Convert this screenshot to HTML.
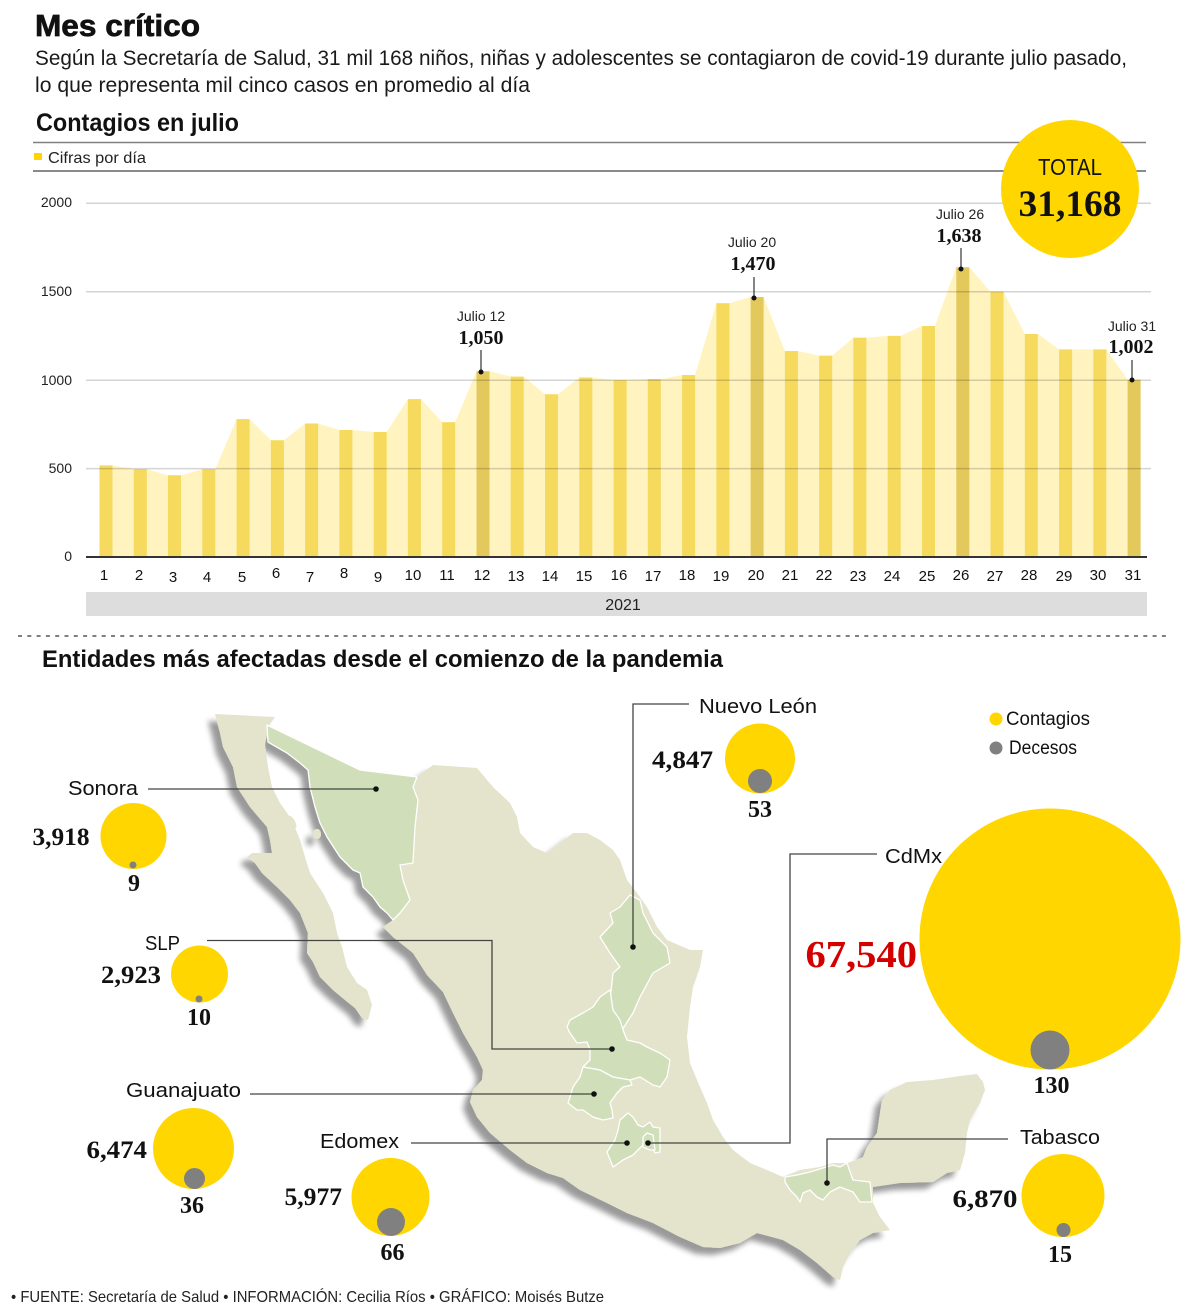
<!DOCTYPE html>
<html><head><meta charset="utf-8"><style>
html,body{margin:0;padding:0;background:#fff;}
svg{display:block;}
.s{font-family:"Liberation Sans",sans-serif;}
.n{font-family:"Liberation Serif",serif;font-weight:bold;}
</style></head><body>
<svg width="1200" height="1315" viewBox="0 0 1200 1315" xmlns="http://www.w3.org/2000/svg">
<defs>
<filter id="sh" x="-10%" y="-10%" width="125%" height="125%">
<feGaussianBlur in="SourceAlpha" stdDeviation="3"/>
<feOffset dx="-7" dy="7" result="o"/>
<feComponentTransfer in="o" result="o2"><feFuncA type="linear" slope="0.4"/></feComponentTransfer>
<feMerge><feMergeNode in="o2"/><feMergeNode in="SourceGraphic"/></feMerge>
</filter>
</defs>
<rect width="1200" height="1315" fill="#fff"/>

<!-- Header -->
<text class="s" x="35" y="36" font-size="31" font-weight="bold" fill="#111" stroke="#111" stroke-width="0.7" textLength="165" lengthAdjust="spacingAndGlyphs">Mes crítico</text>
<text class="s" x="35" y="65" font-size="21" fill="#1a1a1a" textLength="1092" lengthAdjust="spacingAndGlyphs">Según la Secretaría de Salud, 31 mil 168 niños, niñas y adolescentes se contagiaron de covid-19 durante julio pasado,</text>
<text class="s" x="35" y="92" font-size="21" fill="#1a1a1a" textLength="495" lengthAdjust="spacingAndGlyphs">lo que representa mil cinco casos en promedio al día</text>
<text class="s" x="36" y="131" font-size="25" font-weight="bold" fill="#111" textLength="203" lengthAdjust="spacingAndGlyphs">Contagios en julio</text>
<line x1="33" y1="142.5" x2="1146" y2="142.5" stroke="#808080" stroke-width="1.5"/>
<rect x="34" y="153" width="8" height="7" fill="#FFD400"/>
<text class="s" x="48" y="163" font-size="16" fill="#222" textLength="98" lengthAdjust="spacingAndGlyphs">Cifras por día</text>
<line x1="33" y1="171" x2="1146" y2="171" stroke="#444" stroke-width="1.3"/>

<!-- area -->
<polygon fill="#FFF3BF" points="99.5,557 99.5,465.4 112.5,465.4 133.8,469.1 146.8,469.1 168,475.3 181,475.3 202.3,469.1 215.3,469.1 236.6,419.1 249.6,419.1 270.9,440.3 283.9,440.3 305.1,423.5 318.1,423.5 339.4,430 352.4,430 373.7,432 386.7,432 407.9,399.1 420.9,399.1 442.2,422.2 455.2,422.2 476.5,371.3 489.5,371.3 510.7,376.6 523.7,376.6 545,394.3 558,394.3 579.3,377.5 592.3,377.5 613.6,380.2 626.6,380.2 647.8,379.1 660.8,379.1 682.1,375 695.1,375 716.4,303.2 729.4,303.2 750.6,297 763.6,297 784.9,351 797.9,351 819.2,355.7 832.2,355.7 853.4,337.7 866.4,337.7 887.7,335.9 900.7,335.9 922,326 935,326 956.3,267.3 969.3,267.3 990.5,291.7 1003.5,291.7 1024.8,334 1037.8,334 1059.1,349.4 1072.1,349.4 1093.3,349.4 1106.3,349.4 1127.6,379.8 1140.6,379.8 1140.6,557"/>

<!-- bars -->
<g fill="#F6DA5E">
<rect x="99.5" y="465.4" width="13" height="91.6"/>
<rect x="133.8" y="469.1" width="13" height="87.9"/>
<rect x="168" y="475.3" width="13" height="81.7"/>
<rect x="202.3" y="469.1" width="13" height="87.9"/>
<rect x="236.6" y="419.1" width="13" height="137.9"/>
<rect x="270.9" y="440.3" width="13" height="116.7"/>
<rect x="305.1" y="423.5" width="13" height="133.5"/>
<rect x="339.4" y="430" width="13" height="127"/>
<rect x="373.7" y="432" width="13" height="125"/>
<rect x="407.9" y="399.1" width="13" height="157.9"/>
<rect x="442.2" y="422.2" width="13" height="134.8"/>
<rect x="510.7" y="376.6" width="13" height="180.4"/>
<rect x="545" y="394.3" width="13" height="162.7"/>
<rect x="579.3" y="377.5" width="13" height="179.5"/>
<rect x="613.6" y="380.2" width="13" height="176.8"/>
<rect x="647.8" y="379.1" width="13" height="177.9"/>
<rect x="682.1" y="375" width="13" height="182"/>
<rect x="716.4" y="303.2" width="13" height="253.8"/>
<rect x="784.9" y="351" width="13" height="206"/>
<rect x="819.2" y="355.7" width="13" height="201.3"/>
<rect x="853.4" y="337.7" width="13" height="219.3"/>
<rect x="887.7" y="335.9" width="13" height="221.1"/>
<rect x="922" y="326" width="13" height="231"/>
<rect x="990.5" y="291.7" width="13" height="265.3"/>
<rect x="1024.8" y="334" width="13" height="223"/>
<rect x="1059.1" y="349.4" width="13" height="207.6"/>
<rect x="1093.3" y="349.4" width="13" height="207.6"/>
</g>
<g fill="#E3C85C">
<rect x="476.5" y="371.3" width="13" height="185.7"/>
<rect x="750.6" y="297" width="13" height="260"/>
<rect x="956.3" y="267.3" width="13" height="289.7"/>
<rect x="1127.6" y="379.8" width="13" height="177.2"/>
</g>

<!-- gridlines -->
<g stroke="#000" stroke-opacity="0.17" stroke-width="1.5">
<line x1="86" y1="203.3" x2="1151" y2="203.3"/>
<line x1="86" y1="291.7" x2="1151" y2="291.7"/>
<line x1="86" y1="380.2" x2="1151" y2="380.2"/>
<line x1="86" y1="468.6" x2="1151" y2="468.6"/>
</g>
<line x1="86" y1="557" x2="1147" y2="557" stroke="#333" stroke-width="2"/>
<g class="s" font-size="14" fill="#222" text-anchor="end">
<text x="72" y="207">2000</text>
<text x="72" y="296">1500</text>
<text x="72" y="385">1000</text>
<text x="72" y="473">500</text>
<text x="72" y="561">0</text>
</g>

<!-- x labels -->
<g class="s" font-size="15" fill="#111" text-anchor="middle">
<text x="104" y="580">1</text><text x="139" y="580">2</text><text x="173" y="582">3</text><text x="207" y="582">4</text><text x="242" y="582">5</text><text x="276" y="578">6</text><text x="310" y="582">7</text><text x="344" y="578">8</text><text x="378" y="582">9</text><text x="413" y="580">10</text><text x="447" y="580">11</text><text x="482" y="580">12</text><text x="516" y="581">13</text><text x="550" y="581">14</text><text x="584" y="581">15</text><text x="619" y="580">16</text><text x="653" y="581">17</text><text x="687" y="580">18</text><text x="721" y="581">19</text><text x="756" y="580">20</text><text x="790" y="580">21</text><text x="824" y="580">22</text><text x="858" y="581">23</text><text x="892" y="581">24</text><text x="927" y="581">25</text><text x="961" y="580">26</text><text x="995" y="581">27</text><text x="1029" y="580">28</text><text x="1064" y="581">29</text><text x="1098" y="580">30</text><text x="1133" y="580">31</text>
</g>
<rect x="86" y="592" width="1061" height="24" fill="#DDDDDD"/>
<text class="s" x="623" y="610" font-size="16" fill="#222" text-anchor="middle">2021</text>

<!-- annotations -->
<g class="s" font-size="14" fill="#222" text-anchor="middle">
<text x="481" y="321">Julio 12</text>
<text x="752" y="247">Julio 20</text>
<text x="960" y="219">Julio 26</text>
<text x="1132" y="331">Julio 31</text>
</g>
<g class="n" font-size="20" fill="#111" text-anchor="middle">
<text x="481" y="344">1,050</text>
<text x="753" y="270">1,470</text>
<text x="959" y="242">1,638</text>
<text x="1131" y="353">1,002</text>
</g>
<g stroke="#333" stroke-width="1.2">
<line x1="481" y1="350" x2="481" y2="372"/>
<line x1="754" y1="277" x2="754" y2="298"/>
<line x1="961" y1="248" x2="961" y2="269"/>
<line x1="1132" y1="360" x2="1132" y2="380"/>
</g>
<g fill="#111">
<circle cx="481" cy="372" r="2.5"/><circle cx="754" cy="298" r="2.5"/><circle cx="961" cy="269" r="2.5"/><circle cx="1132" cy="380" r="2.5"/>
</g>

<!-- TOTAL -->
<circle cx="1070" cy="189" r="69" fill="#FFD600"/>
<text class="s" x="1070" y="175" font-size="23" fill="#111" text-anchor="middle" textLength="64" lengthAdjust="spacingAndGlyphs">TOTAL</text>
<text class="n" x="1070" y="216" font-size="37" fill="#111" text-anchor="middle" textLength="103" lengthAdjust="spacingAndGlyphs">31,168</text>

<!-- divider -->
<line x1="18" y1="636" x2="1170" y2="636" stroke="#333" stroke-width="1.2" stroke-dasharray="4 5.3"/>
<text class="s" x="42" y="667" font-size="24" font-weight="bold" fill="#111" textLength="681" lengthAdjust="spacingAndGlyphs">Entidades más afectadas desde el comienzo de la pandemia</text>

<!-- MAP -->
<g filter="url(#sh)" fill="#E4E3CB">
<path d="M267,725 L360,770 L417,777 L433,765 L477,768 L493,787 L510,803 L517,817 L520,833 L533,847 L547,853 L560,843 L573,833 L587,833 L600,840 L613,850 L620,860 L627,880 L637,893 L647,907 L657,927 L667,940 L690,950 L703,950 L700,967 L693,987 L690,1007 L687,1037 L690,1063 L697,1080 L707,1103 L713,1120 L723,1137 L733,1150 L750,1163 L767,1170 L783,1177 L800,1170 L820,1167 L833,1163 L847,1163 L857,1160 L863,1157 L867,1147 L877,1133 L880,1113 L882,1100 L890,1090 L907,1082 L933,1080 L960,1076 L977,1074 L983,1082 L985,1090 L980,1103 L970,1120 L967,1133 L965,1153 L960,1170 L947,1173 L933,1182 L900,1183 L873,1187 L873,1203 L880,1217 L890,1230 L873,1233 L860,1240 L850,1253 L843,1267 L840,1280 L833,1277 L817,1263 L800,1250 L783,1240 L757,1233 L740,1243 L720,1248 L703,1247 L680,1237 L653,1223 L627,1213 L607,1203 L580,1190 L563,1178 L547,1173 L527,1163 L510,1150 L490,1133 L477,1117 L470,1102 L473,1090 L482,1080 L483,1070 L477,1057 L463,1033 L453,1013 L443,992 L427,975 L413,953 L393,937 L383,927 L393,920 L387,913 L380,907 L373,897 L363,887 L360,873 L353,870 L340,857 L327,837 L320,823 L315,807 L310,787 L308,770 L300,763 L287,753 L268,742 Z"/>
<path d="M215,714 L275,717 L268,727 L265,745 L268,767 L272,787 L280,803 L292,820 L300,840 L305,857 L310,873 L323,893 L333,913 L337,933 L342,947 L347,967 L357,983 L367,990 L372,1005 L368,1020 L362,1018 L355,1008 L345,1000 L333,990 L320,977 L313,962 L307,953 L308,933 L300,913 L290,900 L277,887 L262,873 L255,863 L247,857 L252,853 L272,853 L270,840 L267,827 L250,807 L237,787 L233,767 L223,747 L220,733 Z"/>
<ellipse cx="292" cy="822" rx="3" ry="7" transform="rotate(-30 292 822)"/>
<ellipse cx="317" cy="834" rx="4" ry="5"/>
</g>
<g fill="#D1DEBA" stroke="#fff" stroke-width="1.3" stroke-linejoin="round">
<path d="M267,725 L360,770 L417,777 L413,787 L418,800 L415,827 L413,863 L400,865 L403,880 L410,900 L400,913 L393,920 L387,913 L380,907 L373,897 L363,887 L360,873 L353,870 L340,857 L327,837 L320,823 L315,807 L310,787 L308,770 L300,763 L287,753 L268,742 Z"/>
<path d="M630,895 L640,900 L643,913 L653,933 L667,947 L670,963 L653,973 L640,997 L633,1013 L620,1033 L617,1023 L610,1000 L613,973 L620,967 L610,953 L600,937 L613,923 L610,913 L620,907 Z"/>
<path d="M610,990 L600,997 L593,1007 L583,1013 L570,1020 L567,1027 L570,1033 L577,1043 L587,1042 L590,1050 L590,1060 L583,1067 L600,1070 L613,1077 L630,1080 L640,1077 L653,1085 L660,1087 L667,1077 L670,1060 L660,1053 L647,1047 L640,1043 L627,1040 L623,1030 L620,1020 L613,1010 Z"/>
<path d="M583,1067 L580,1077 L573,1087 L570,1097 L568,1103 L573,1107 L577,1110 L583,1110 L593,1117 L603,1120 L613,1118 L612,1110 L610,1103 L617,1093 L623,1087 L632,1085 L630,1080 L613,1077 L600,1070 Z"/>
<path d="M628,1113 L633,1117 L638,1125 L643,1127 L650,1122 L653,1127 L660,1128 L660,1152 L655,1153 L652,1147 L643,1145 L638,1150 L633,1155 L623,1160 L613,1167 L607,1152 L615,1140 L618,1130 L620,1120 Z"/>
<path d="M643,1137 L647,1133 L653,1135 L655,1150 L650,1150 L643,1147 Z"/>
<path d="M785,1177 L797,1175 L810,1172 L823,1168 L833,1165 L840,1167 L847,1163 L853,1180 L870,1182 L872,1202 L860,1202 L853,1192 L840,1187 L830,1192 L823,1200 L817,1197 L810,1190 L803,1193 L800,1202 L797,1197 L790,1190 L785,1182 Z"/>
</g>

<!-- leaders -->
<g fill="none" stroke="#444" stroke-width="1.3">
<path d="M148,789 H376"/>
<path d="M689,704 H633 V947"/>
<path d="M207,940.5 H492 V1049 H612"/>
<path d="M250,1094 H594"/>
<path d="M411,1143 H627"/>
<path d="M648,1143 H790 V854 H877"/>
<path d="M1008,1139 H827 V1183"/>
</g>
<g fill="#111">
<circle cx="376" cy="789" r="2.8"/><circle cx="633" cy="947" r="2.8"/><circle cx="612" cy="1049" r="2.8"/><circle cx="594" cy="1094" r="2.8"/><circle cx="627" cy="1143" r="2.8"/><circle cx="648" cy="1143" r="2.8"/><circle cx="827" cy="1183" r="2.8"/>
</g>

<!-- labels -->
<g class="s" font-size="20" fill="#111">
<text x="68" y="795" textLength="70" lengthAdjust="spacingAndGlyphs">Sonora</text>
<text x="145" y="950" textLength="35" lengthAdjust="spacingAndGlyphs">SLP</text>
<text x="699" y="713" textLength="118" lengthAdjust="spacingAndGlyphs">Nuevo León</text>
<text x="885" y="863" textLength="57" lengthAdjust="spacingAndGlyphs">CdMx</text>
<text x="126" y="1097" textLength="115" lengthAdjust="spacingAndGlyphs">Guanajuato</text>
<text x="320" y="1148" textLength="79" lengthAdjust="spacingAndGlyphs">Edomex</text>
<text x="1020" y="1144" textLength="80" lengthAdjust="spacingAndGlyphs">Tabasco</text>
</g>

<!-- legend -->
<circle cx="996" cy="719" r="6.5" fill="#FFD600"/>
<circle cx="996" cy="748" r="6.5" fill="#808080"/>
<text class="s" x="1006" y="725" font-size="19" fill="#111" textLength="84" lengthAdjust="spacingAndGlyphs">Contagios</text>
<text class="s" x="1009" y="754" font-size="19" fill="#111" textLength="68" lengthAdjust="spacingAndGlyphs">Decesos</text>

<!-- bubbles -->
<g fill="#FFD600">
<circle cx="133.5" cy="836" r="33"/>
<circle cx="199.5" cy="974" r="28.5"/>
<circle cx="760" cy="758.5" r="35"/>
<circle cx="1050" cy="939" r="130.5"/>
<circle cx="193.5" cy="1148.5" r="40.5"/>
<circle cx="390.5" cy="1197" r="39"/>
<circle cx="1063" cy="1195.5" r="41.5"/>
</g>
<g fill="#808080">
<circle cx="133" cy="865" r="3.5"/>
<circle cx="199" cy="999" r="3.5"/>
<circle cx="760" cy="781" r="12"/>
<circle cx="1050" cy="1050" r="19.5"/>
<circle cx="194.5" cy="1178.5" r="10.5"/>
<circle cx="391" cy="1222" r="14"/>
<circle cx="1063.5" cy="1230" r="7"/>
</g>
<g class="n" font-size="25" fill="#111">
<text x="32.5" y="845" textLength="57" lengthAdjust="spacingAndGlyphs">3,918</text>
<text x="101" y="983" textLength="60" lengthAdjust="spacingAndGlyphs">2,923</text>
<text x="652" y="768" textLength="61" lengthAdjust="spacingAndGlyphs">4,847</text>
<text x="86.5" y="1158" textLength="60.5" lengthAdjust="spacingAndGlyphs">6,474</text>
<text x="284.5" y="1205" textLength="57.5" lengthAdjust="spacingAndGlyphs">5,977</text>
<text x="952.5" y="1207" textLength="65" lengthAdjust="spacingAndGlyphs">6,870</text>
</g>
<g class="n" font-size="24" fill="#111" text-anchor="middle">
<text x="134" y="891">9</text>
<text x="199" y="1025">10</text>
<text x="760" y="817">53</text>
<text x="1051.5" y="1093">130</text>
<text x="192" y="1213">36</text>
<text x="392.5" y="1260">66</text>
<text x="1060" y="1262">15</text>
</g>
<text class="n" x="805.5" y="967" font-size="38" fill="#D40000" textLength="111.5" lengthAdjust="spacingAndGlyphs">67,540</text>

<!-- footer -->
<text class="s" x="11" y="1302" font-size="16" fill="#222" textLength="593" lengthAdjust="spacingAndGlyphs">• FUENTE: Secretaría de Salud • INFORMACIÓN: Cecilia Ríos • GRÁFICO: Moisés Butze</text>
</svg>
</body></html>
